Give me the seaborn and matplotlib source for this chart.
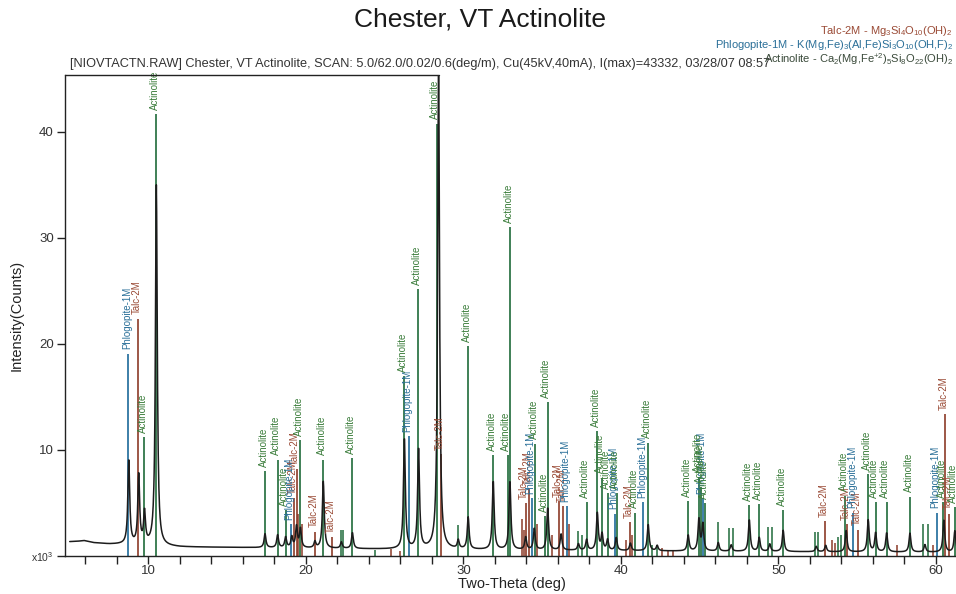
import numpy as np
import pandas as pd
import matplotlib
matplotlib.use("Agg")
import matplotlib.pyplot as plt
import seaborn as sns
from matplotlib.ticker import MultipleLocator, FixedLocator

# ---------------- data (intensities in thousands of counts) ----------------
# background level of the measured scan
bg_pos = [5.0, 5.5, 5.9, 6.5, 7.5, 8.2, 12.0, 16.0, 25.0, 35.0, 45.0, 55.0, 62.0]
bg_val = [1.35, 1.38, 1.45, 1.25, 1.12, 1.10, 0.85, 0.80, 0.65, 0.55, 0.45, 0.38, 0.35]

# measured peaks (position in 2-theta, height above background)
meas_pos = [8.75, 9.38, 9.75, 10.50, 17.40, 18.20, 18.71, 19.10, 19.40, 19.65,
            20.57, 21.10, 22.25, 22.95, 26.25, 27.15, 28.42, 29.67, 30.30, 31.89,
            32.95, 33.95, 34.50, 35.35, 36.20, 37.30, 37.82, 38.50, 38.80, 39.15,
            39.70, 40.60, 41.73, 42.30, 44.27, 44.95, 45.20, 46.18, 47.00, 48.15,
            48.78, 49.45, 50.30, 52.40, 53.00, 54.30, 55.70, 56.17, 56.87, 58.35,
            59.30, 60.50, 61.20]
meas_int = [8.0, 6.5, 3.0, 34.0, 1.3, 1.2, 1.0, 1.0, 2.0, 1.8,
            0.6, 6.3, 0.6, 1.5, 10.5, 9.5, 46.0, 0.8, 3.0, 6.5,
            6.5, 1.2, 2.0, 4.0, 1.5, 0.6, 1.0, 3.5, 1.5, 1.0,
            1.2, 0.7, 2.5, 0.5, 1.5, 3.0, 2.5, 0.8, 0.6, 3.0,
            1.3, 0.7, 2.0, 0.5, 0.6, 2.0, 3.0, 1.8, 1.8, 1.8,
            0.7, 3.0, 2.0]

# reference sticks: Actinolite (labelled)
act_pos = [9.73, 10.50, 17.40, 18.20, 18.71, 19.62, 21.10, 22.94, 26.22, 27.13,
           28.30, 30.30, 31.89, 32.80, 32.95, 34.54, 35.17, 35.35, 37.82, 38.50,
           38.77, 39.15, 39.73, 40.89, 41.73, 44.27, 44.95, 45.10, 45.35, 48.15,
           48.78, 50.30, 54.25, 55.70, 56.17, 56.87, 58.35, 60.46, 61.20]
act_int = [11.2, 41.7, 8.0, 9.1, 4.3, 10.9, 9.1, 9.2, 17.0, 25.2,
           40.8, 19.8, 9.5, 9.5, 31.0, 10.6, 3.8, 14.5, 5.1, 11.8,
           7.4, 5.9, 5.9, 4.1, 10.7, 5.2, 7.5, 6.5, 5.0, 4.8,
           4.9, 4.3, 5.7, 7.7, 5.1, 5.1, 5.6, 5.1, 4.6]
# Actinolite minor sticks (unlabelled)
act_minor_pos = [22.20, 22.35, 24.40, 29.67, 37.27, 37.50, 42.00, 42.30, 46.18, 46.88,
                 47.13, 49.35, 49.57, 52.32, 52.49, 53.80, 54.00, 59.19, 59.50]
act_minor_int = [2.5, 2.5, 0.6, 2.9, 2.4, 2.0, 1.0, 1.0, 3.2, 2.6,
                 2.6, 2.7, 2.7, 2.3, 2.3, 1.8, 2.0, 3.0, 3.0]

# Talc-2M
talc_pos = [9.33, 19.25, 19.40, 20.57, 21.67, 28.60, 33.95, 34.15, 36.08, 36.30,
            40.57, 52.95, 54.35, 55.07, 60.57, 60.84]
talc_int = [22.4, 5.5, 8.2, 2.3, 1.8, 9.6, 5.0, 6.3, 5.2, 4.7,
            3.2, 3.3, 3.0, 2.5, 13.4, 4.0]
talc_minor_pos = [19.50, 19.75, 25.40, 26.00, 33.70, 33.85, 34.70, 35.60, 36.70, 40.30,
                  40.70, 42.60, 43.00, 43.30, 53.40, 53.60, 57.50, 59.80]
talc_minor_int = [4.0, 3.0, 0.7, 0.5, 3.5, 2.5, 3.0, 2.0, 3.0, 1.5,
                  2.0, 0.8, 0.6, 0.5, 1.5, 1.2, 1.0, 1.0]

# Phlogopite-1M
phl_pos = [8.72, 19.05, 26.54, 34.35, 36.55, 39.62, 41.42, 45.20, 54.75, 60.04]
phl_int = [19.1, 3.0, 11.35, 5.5, 4.7, 4.0, 5.1, 5.5, 4.1, 4.1]

x_ticks = [10, 20, 30, 40, 50, 60]
y_ticks = [0, 10, 20, 30, 40]
y_ticklabels = ["x10$^3$", "10", "20", "30", "40"]

title = "Chester, VT Actinolite"
subtitle = ("[NIOVTACTN.RAW] Chester, VT Actinolite, SCAN: 5.0/62.0/0.02/0.6(deg/m), "
            "Cu(45kV,40mA), I(max)=43332, 03/28/07 08:57")
legend_lines = [
    ("Talc-2M - Mg$_3$Si$_4$O$_{10}$(OH)$_2$", "talc"),
    ("Phlogopite-1M - K(Mg,Fe)$_3$(Al,Fe)Si$_3$O$_{10}$(OH,F)$_2$", "phl"),
    ("Actinolite - Ca$_2$(Mg,Fe$^{+2}$)$_5$Si$_8$O$_{22}$(OH)$_2$", "act"),
]

# ---------------- styling ----------------
sns.set_theme(style="white")
plt.rcParams["font.family"] = ["Liberation Sans", "DejaVu Sans"]
plt.rcParams["mathtext.default"] = "regular"

col = {
    "act": "#1f6b3a", "act_txt": "#3b7d3b",
    "talc": "#8c3b28", "talc_txt": "#9a4a35",
    "phl": "#1d6a9a", "phl_txt": "#2a6f98",
}

# measured scan profile built from the read background and peak list
two_theta = np.arange(5.0, 62.0001, 0.02)
profile = np.interp(two_theta, bg_pos, bg_val)
hw = 0.07
for p, h in zip(meas_pos, meas_int):
    profile = profile + h / (1.0 + ((two_theta - p) / hw) ** 2)
scan = pd.DataFrame({"two_theta": two_theta, "intensity": profile})

W, H = 956, 594
fig = plt.figure(figsize=(W / 100, H / 100), dpi=100)
L, R, T, B = 65, 958, 75, 556
ax = fig.add_axes([L / W, 1 - B / H, (R - L) / W, (B - T) / H])

xmin, xmax = 4.70, 61.40
ymax = (B - T) / 10.6
ax.set_xlim(xmin, xmax)
ax.set_ylim(0, ymax)

# sticks
ax.vlines(talc_minor_pos, 0, talc_minor_int, color=col["talc"], lw=1.1, zorder=2)
ax.vlines(act_minor_pos, 0, act_minor_int, color=col["act"], lw=1.1, zorder=2)
ax.vlines(talc_pos, 0, talc_int, color=col["talc"], lw=1.2, zorder=2)
ax.vlines(phl_pos, 0, phl_int, color=col["phl"], lw=1.2, zorder=2)
ax.vlines(act_pos, 0, act_int, color=col["act"], lw=1.2, zorder=2)

# measured scan
sns.lineplot(data=scan, x="two_theta", y="intensity", ax=ax, color="#1c1c1c",
             lw=1.1, zorder=3, legend=False)

# stick labels
def label(names_pos, names_int, text, c):
    for p, h in zip(names_pos, names_int):
        ax.annotate(text, (p, h), xytext=(-1, 3), textcoords="offset points",
                    rotation=90, ha="center", va="bottom", fontsize=7.0,
                    color=c, annotation_clip=False, zorder=4)

label(talc_pos, talc_int, "Talc-2M", col["talc_txt"])
label(phl_pos, phl_int, "Phlogopite-1M", col["phl_txt"])
label(act_pos, act_int, "Actinolite", col["act_txt"])

# axes decoration
for s in ["top", "right"]:
    ax.spines[s].set_visible(False)
for s in ["left", "bottom"]:
    ax.spines[s].set_color("#222222")
    ax.spines[s].set_linewidth(1.0)
ax.plot([xmin, 28.42], [ymax, ymax], color="#222222", lw=1.0, clip_on=False, zorder=5)

ax.xaxis.set_major_locator(FixedLocator(x_ticks))
ax.xaxis.set_minor_locator(MultipleLocator(2))
ax.yaxis.set_major_locator(FixedLocator(y_ticks))
ax.set_yticklabels(y_ticklabels)
ax.tick_params(axis="both", which="both", direction="out", length=6, width=1.0,
               color="#222222", labelcolor="#333333")
ax.tick_params(axis="x", labelsize=9.5, pad=0.5, bottom=True)
ax.tick_params(axis="x", which="minor", bottom=True)
ax.tick_params(axis="y", labelsize=9.5, pad=2, left=True)
for lbl in ax.get_yticklabels():
    if lbl.get_text().startswith("x10"):
        lbl.set_fontsize(7.5)

ax.set_xlabel("Two-Theta (deg)", fontsize=10.5, color="#222222")
ax.set_ylabel("Intensity(Counts)", fontsize=10.5, color="#222222")
ax.xaxis.set_label_coords(0.5, -0.043)
ax.yaxis.set_label_coords(-0.046, 0.5)

fig.text(480 / W, 1 - 19 / H, title, ha="center", va="center", fontsize=19,
         color="#1a1a1a")
fig.text(70 / W, 1 - 64 / H, subtitle, ha="left", va="center", fontsize=9.2,
         color="#333333")
for i, (txt, key) in enumerate(legend_lines):
    fig.text(953 / W, 1 - (31 + 14 * i) / H, txt, ha="right", va="center",
             fontsize=8.0, color=col[key + "_txt"] if key != "act" else "#3a4a3a")

fig.savefig("out.png", dpi=100)
